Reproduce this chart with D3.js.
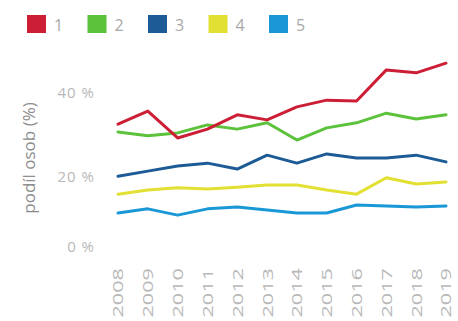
<!DOCTYPE html>
<html><head><meta charset="utf-8">
<script src="https://cdn.jsdelivr.net/npm/d3@7"></script>
<style>body{margin:0;background:#fff;}svg{display:block;}</style>
</head><body>
<script>
const years = ["2008","2009","2010","2011","2012","2013","2014","2015","2016","2017","2018","2019"];
const seriesNames = ["1","2","3","4","5"];
const colors = ["#cc1f36","#5cc23c","#1c5b95","#e2e032","#1a98d6"];
const s1 = [32.6,35.7,29.3,31.4,34.8,33.6,36.7,38.3,38.1,45.5,44.8,47.1];
const s2 = [30.7,29.8,30.5,32.4,31.4,32.9,28.8,31.7,32.9,35.2,33.8,34.8];
const s3 = [20.2,21.4,22.6,23.3,21.9,25.2,23.3,25.5,24.5,24.5,25.2,23.6];
const s4 = [15.1,16.3,16.9,16.6,17.1,17.7,17.7,16.3,15.1,19.8,18.0,18.6];
const s5 = [9.7,10.9,9.1,10.9,11.4,10.6,9.7,9.7,12.0,11.7,11.4,11.7];
const yTicks = [0,20,40];
const yTickLabels = ["0 %","20 %","40 %"];
const yTitle = "podíl osob (%)";

const W = 458, H = 321;
const svg = d3.select("body").append("svg").attr("width",W).attr("height",H);
const series = [s1,s2,s3,s4,s5];

const x = d3.scalePoint().domain(years).range([118,446]);
const y = d3.scaleLinear().domain([0,20,40]).range([247,177,93]);

// legend
const lg = svg.append("g");
seriesNames.forEach((n,i)=>{
  const gx = 27 + i*60.5;
  lg.append("rect").attr("x",gx).attr("y",15).attr("width",19).attr("height",18).attr("fill",colors[i]);
  lg.append("text").attr("x",gx+27).attr("y",31).text(n)
    .attr("font-family","Open Sans, sans-serif").attr("font-size",16).attr("fill","#a8a8a8");
});

// y axis
const yAxis = d3.axisLeft(y).tickValues(yTicks).tickFormat((d,i)=>yTickLabels[i]).tickSize(0).tickPadding(0);
const ga = svg.append("g").attr("transform","translate(95,0)").call(yAxis);
ga.select(".domain").remove();
ga.selectAll("text").attr("font-family","Open Sans, sans-serif").attr("font-size",15).attr("fill","#b8b8b8")
  .attr("letter-spacing","1px");

// y title
svg.append("text").attr("transform","translate(35,158) rotate(-90)").attr("text-anchor","middle")
  .text(yTitle).attr("font-family","Open Sans, sans-serif").attr("font-size",17).attr("fill","#8e8e8e");

// x axis
const xAxis = d3.axisBottom(x).tickSize(0).tickPadding(0);
const gx = svg.append("g").attr("transform","translate(0,268)").call(xAxis);
gx.select(".domain").remove();
gx.selectAll("text").attr("font-family","Open Sans, sans-serif").attr("font-size",14).attr("fill","#b8b8b8")
  .attr("text-anchor","end").attr("dy","0.35em").attr("y",0).attr("x",0)
  .attr("transform","rotate(-90) scale(1.55,1)");

// lines
const line = d3.line().x((d,i)=>x(years[i])).y(d=>y(d));
series.slice().reverse().forEach((s,ri)=>{
  const i = series.length-1-ri;
  svg.append("path").attr("d",line(s)).attr("fill","none").attr("stroke",colors[i])
    .attr("stroke-width",3).attr("stroke-linejoin","round").attr("stroke-linecap","round");
});
</script>
</body></html>
